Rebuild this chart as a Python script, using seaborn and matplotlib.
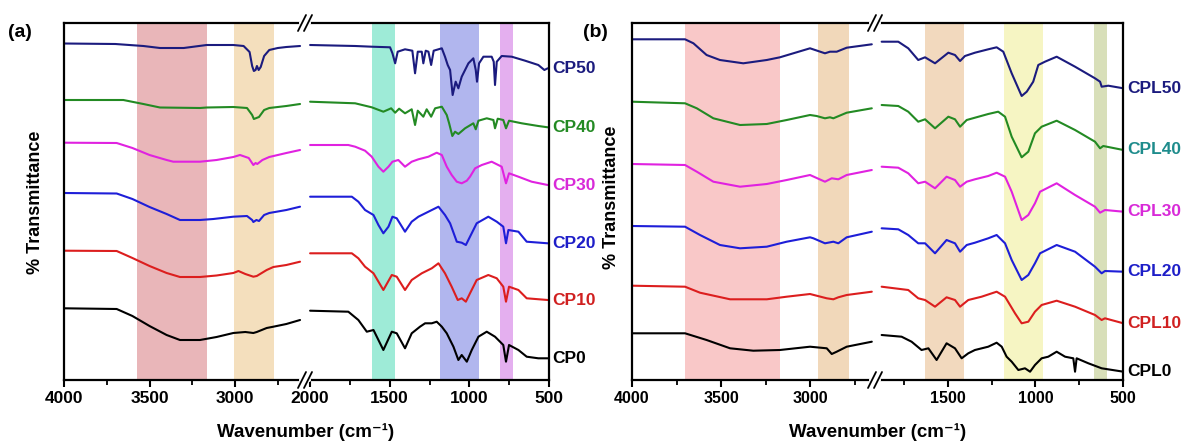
import matplotlib
matplotlib.use("Agg")
import matplotlib.pyplot as plt
import matplotlib.transforms as mtrans
from matplotlib.lines import Line2D
from matplotlib.ticker import MultipleLocator, NullLocator
import pandas as pd
import seaborn as sns

# ---------------- data: panel (a) ----------------
CP50_wn = [4000,3700,3536,3439,3300,3166,3010,2950,2915,2900,2890,2880,2872,2862,2850,2830,2800,2750,2700,2620,
           2000,1717,1613,1498,1483,1466,1450,1404,1358,1341,1324,1299,1289,1274,1257,1240,1224,1173,1153,1136,
           1121,1105,1086,1069,1048,1006,975,960,952,939,912,860,847,839,828,797,734,650,567,529,508]
CP50_T = [336.5,336,334,332,332,335,335,334,328,314,309,310,314,310,313,324,330,332,333,334,
          335,334,333.3,332.7,326.7,316.7,328.3,330.7,329.3,306.7,328.3,328.3,316.7,329.3,328.3,315,329.3,331.7,323.3,315,
          310,285,298.3,291.7,303.3,316.7,321.7,310,298.3,316.7,323.3,323.3,318.3,295,318.3,324,323.3,319.3,315,310,311.7]

CP40_wn = [4000,3653,3536,3439,3205,3166,3010,2930,2900,2890,2875,2860,2830,2800,2700,2620,
           2000,1717,1613,1540,1491,1466,1441,1404,1362,1341,1324,1289,1268,1240,1215,1173,1142,1127,1107,1090,
           1069,1027,975,960,943,891,849,839,822,787,770,751,671,567,508]
CP40_T = [280,280,276,272.5,272,272.5,273,272,265,261,262,263,270,272,274,276,
          278.3,276.7,272.7,268.3,271.7,267.3,271.3,266.7,270.7,255,269.3,263.3,270.7,263.3,271.7,273.3,265,256.7,244,248.3,
          246,251.7,256.7,250.7,259.3,261.7,260,251.7,261.3,260,251.7,259.3,256.7,254,252.7]

CP30_wn = [4000,3692,3600,3500,3400,3361,3205,3108,3010,2971,2920,2893,2880,2870,2840,2800,2700,2620,
           2000,1760,1717,1655,1613,1571,1540,1508,1483,1446,1404,1362,1320,1257,1205,1173,1142,1111,1079,1048,
           1016,996,964,922,860,797,770,751,692,609,508]
CP30_T = [237.3,237,232,225,220,218.3,218.3,220,223,225,222,215,217,216,220,223,227,230,
          235,235,233.3,229.3,223.3,213.3,208.3,213.3,218.3,220,213.3,218.3,220.7,223.3,227.3,225,213.3,205,198.3,196.7,
          199.3,203.3,211.7,215,218.3,213.3,196.7,206.7,203.3,198.3,195]

CP20_wn = [4000,3692,3600,3500,3400,3322,3205,3127,3010,2930,2900,2893,2875,2860,2830,2800,2700,2620,
           2000,1738,1697,1655,1602,1571,1540,1508,1483,1456,1404,1362,1320,1257,1194,1153,1121,1079,1048,1022,
           996,954,881,828,787,770,755,692,640,508]
CP20_T = [187,186.5,181,173,166,160,160,161,163.3,164,160,158,160,159,165,167,170,173.3,
          183.3,183.3,178.3,170,165,155,146.7,153.3,163.3,161.7,148.3,158.3,163.3,168.3,173.3,165,156.7,138.3,137.3,135,
          143.3,156.7,163.3,158.3,153.3,136.7,150,148.3,138.3,136.7]

CP10_wn = [4000,3692,3600,3500,3400,3322,3205,3108,3010,2980,2940,2893,2873,2815,2776,2700,2620,
           2000,1738,1697,1655,1602,1540,1487,1456,1404,1362,1299,1236,1194,1153,1111,1073,1048,1022,996,954,
           881,828,787,770,751,692,640,508]
CP10_T = [129.3,129,122,114,107,103,103,104.5,107,109,106,103.3,104,110,113,115,118.3,
          126.7,126.7,121.7,113.3,106.7,90,105,103.3,90,100,106.7,111.7,116.7,106.7,93.3,80,81.7,78.3,86.7,100,
          105,101.7,93.3,78.3,93.3,90,81.7,80]

CP0_wn = [4000,3692,3600,3500,3400,3322,3205,3108,3010,2940,2893,2873,2815,2776,2700,2620,
          2000,1760,1697,1644,1602,1540,1487,1456,1404,1362,1310,1278,1236,1205,1173,1142,1100,1069,1048,1016,
          985,943,891,839,787,770,751,692,640,567,508]
CP0_T = [71.7,71,64,54,45,40,40,43,47,48,47,48,52,53.3,56,60,
         69.3,68.3,60,48.3,50,30,48.3,46.7,31.7,46.7,53.3,56.7,56.7,58.3,53.3,46.7,33.3,20,25,18.3,
         30,43.3,48.3,43.3,35,18.3,35,30,23.3,21.7,21.7]

# ---------------- data: panel (b) ----------------
CPL50_wn = [4000,3702,3655,3581,3506,3375,3243,3169,3000,2916,2888,2850,2794,2653,
            1879,1784,1727,1670,1631,1574,1498,1460,1431,1403,1346,1270,1222,1184,1136,1079,1050,1013,984,946,
            879,774,660,631,622,584,498]
CPL50_T = [340.7,340.7,336.7,325,320,316.7,320,322.7,331.7,326.7,328.3,328.3,332.3,335.7,
           338.3,338.3,331.7,320,322.7,316.7,327.3,325,319,324,327.3,330.7,332.7,328.3,306.7,284,288.3,298.3,315,318.3,
           323.3,313.3,301.7,298.3,293.3,294.3,291.7]

CPL40_wn = [4000,3702,3636,3543,3393,3243,3131,3000,2963,2916,2888,2869,2794,2653,
            1879,1784,1727,1670,1631,1574,1498,1460,1431,1393,1346,1270,1213,1174,1136,1079,1041,1003,965,879,
            774,660,631,613,498]
CPL40_T = [278.3,276.7,271.7,261.7,255,256,260,265,264,261.7,262.7,261.7,267.3,271.7,
           275,274,268.3,258.3,260.7,251.7,263.3,260.7,253.3,260,262.3,266,268.3,263.3,243.3,222.7,228.3,246.7,253.3,259.3,
           250,238.3,231.7,234,230]

CPL30_wn = [4000,3702,3636,3543,3393,3243,3131,3000,2916,2878,2841,2794,2653,
            1879,1784,1727,1670,1631,1574,1508,1460,1431,1393,1346,1270,1222,1174,1136,1079,1041,1003,974,879,
            774,660,631,603,498]
CPL30_T = [216,215,208.3,198.3,193.3,196,200,205,198.3,201.7,200.7,205,210,
           213.3,212.3,206.7,196.7,198.3,191.7,203.3,200,193.3,198.3,200.7,204,207.3,203.3,188.3,160,165,176.7,188.3,196.7,
           185,173.3,167.3,170,168.3]

CPL20_wn = [4000,3702,3618,3506,3393,3243,3131,3000,2981,2916,2869,2841,2794,2653,
            1879,1784,1727,1670,1631,1574,1508,1460,1431,1393,1346,1270,1222,1174,1136,1079,1041,1003,974,879,
            774,660,622,603,498]
CPL20_T = [154,153.3,145,135,131.7,133.3,138.3,142.7,141.7,136.7,138.3,136.7,142.7,148.3,
           151.7,150.7,145,136.7,136.7,126.7,140,136.7,128.3,135,137.3,141.7,145,136.7,120,100,105,116.7,126.7,135,
           128.3,113.3,106.7,109,108.3]

CPL10_wn = [4000,3702,3618,3449,3243,3131,3000,2906,2869,2841,2794,2653,
            1879,1727,1670,1631,1574,1508,1460,1431,1384,1308,1222,1174,1117,1079,1041,1003,965,879,774,660,622,603,498]
CPL10_T = [94.3,93.3,87.3,80.7,80.7,83.3,86,81.7,80.7,82.7,85,88.3,
           93.3,90,81.7,80,73.3,82.7,80,73.3,80,83.3,88.3,83.3,66.7,56.7,58.3,68.3,75,79.3,73.3,65,60,61.7,56.7]

CPL0_wn = [4000,3702,3581,3449,3319,3169,3000,2906,2878,2850,2794,2653,
           1879,1765,1708,1651,1612,1565,1508,1460,1422,1384,1346,1270,1222,1193,1165,1136,1098,1060,1031,1003,
           965,927,879,831,784,774,765,698,622,498]
CPL0_T = [46.7,46.7,40,31.7,29.3,30,33.3,31.7,26,28.3,33.3,38.3,
          45,43.3,38.3,30,31.7,20,36.7,31.7,21.7,26.7,30,33.3,37.3,33.3,23.3,18.3,10,11.7,8.3,15,
          21.7,23.3,28.3,23.3,21.7,8.3,21.7,16.7,11.7,8.3]

# series: name, wavenumbers, values, line colour, label colour
series_a = [
    ("CP50", CP50_wn, CP50_T, "#1B1B7E", "#1B1B7E"),
    ("CP40", CP40_wn, CP40_T, "#238A23", "#238A23"),
    ("CP30", CP30_wn, CP30_T, "#E022E0", "#D82AD8"),
    ("CP20", CP20_wn, CP20_T, "#1E1ED8", "#1E1EC8"),
    ("CP10", CP10_wn, CP10_T, "#DC1E1E", "#D02020"),
    ("CP0", CP0_wn, CP0_T, "#000000", "#000000"),
]
series_b = [
    ("CPL50", CPL50_wn, CPL50_T, "#1B1B7E", "#1B1B7E"),
    ("CPL40", CPL40_wn, CPL40_T, "#238A23", "#1E8C8C"),
    ("CPL30", CPL30_wn, CPL30_T, "#E022E0", "#D82AD8"),
    ("CPL20", CPL20_wn, CPL20_T, "#1E1ED8", "#1E1EC8"),
    ("CPL10", CPL10_wn, CPL10_T, "#DC1E1E", "#D02020"),
    ("CPL0", CPL0_wn, CPL0_T, "#000000", "#000000"),
]

# shaded regions (wavenumber from, to, colour)
bands_a = [(3573, 3164, "#E9B6B9"), (3006, 2772, "#F4DFBD"),
           (1613, 1466, "#9EEBD7"), (1184, 939, "#B1B6EE"), (807, 724, "#E4AFEF")]
bands_b = [(3702, 3169, "#F9C8C8"), (2955, 2781, "#F1D8BA"),
           (1631, 1407, "#F2D9BE"), (1178, 959, "#F6F5C3"), (666, 590, "#D8DFB9")]

xlims_a = [(4000, 2591), (2032, 500)]
xlims_b = [(4000, 2635), (1917, 500)]
split_wn = 2300

# ---------------- style ----------------
sns.set_theme(style="white")
plt.rcParams['font.family'] = ['Liberation Sans', 'DejaVu Sans']
plt.rcParams['font.weight'] = 'bold'
plt.rcParams['text.color'] = 'black'
plt.rcParams['axes.labelcolor'] = 'black'
plt.rcParams['xtick.color'] = 'black'
plt.rcParams['ytick.color'] = 'black'

W, H = 1184, 444
fig = plt.figure(figsize=(W / 100, H / 100), dpi=100)
fig.patch.set_facecolor('white')

top_px, bot_px = 23, 380
b = 1 - bot_px / H
h = (bot_px - top_px) / H


def add_ax(x0, x1):
    return fig.add_axes([x0 / W, b, (x1 - x0) / W, h])


def style_pair(axl, axr, xlims, tick_fs):
    for ax, lim in zip((axl, axr), xlims):
        ax.set_xlim(*lim)
        ax.set_ylim(0, 357)
        ax.set_facecolor('none')
        ax.xaxis.set_major_locator(MultipleLocator(500))
        ax.xaxis.set_minor_locator(MultipleLocator(250))
        ax.yaxis.set_major_locator(NullLocator())
        ax.tick_params(axis='x', which='major', direction='out', length=5, width=1.5,
                       labelsize=tick_fs, pad=3, colors='black', bottom=True, top=False)
        ax.tick_params(axis='x', which='minor', direction='out', length=3.5, width=1.3,
                       colors='black', bottom=True, top=False)
        for lab in ax.get_xticklabels():
            lab.set_fontweight('bold')
        for s in ax.spines.values():
            s.set_linewidth(1.6)
            s.set_color('black')
        ax.set_xlabel('')
        ax.set_ylabel('')
    axl.spines['right'].set_visible(False)
    axr.spines['left'].set_visible(False)


def draw_panel(axl, axr, series, bands, label_dx, label_fs):
    for lo, hi, c in bands:
        for ax in (axl, axr):
            ax.axvspan(lo, hi, color=c, lw=0, zorder=0)
    for name, wn, T, lc, tc in series:
        df = pd.DataFrame({"wn": wn, "T": T})
        left = df[df.wn > split_wn]
        right = df[df.wn <= split_wn]
        sns.lineplot(data=left, x="wn", y="T", ax=axl, color=lc, lw=1.5,
                     estimator=None, sort=False, legend=False)
        sns.lineplot(data=right, x="wn", y="T", ax=axr, color=lc, lw=1.5,
                     estimator=None, sort=False, legend=False)
        tr = mtrans.blended_transform_factory(axr.transAxes, axr.transData)
        axr.text(1 + label_dx, right["T"].iloc[-1], name, transform=tr, ha='left', va='center',
                 color=tc, fontsize=label_fs, fontweight='bold', clip_on=False)


def break_marks(xj):
    for py in (top_px, bot_px):
        Y = 1 - py / H
        fig.add_artist(Line2D([(xj - 4) / W, (xj + 4) / W], [Y, Y], color='white', lw=3,
                              transform=fig.transFigure, zorder=10))
        for off in (-3, 3):
            fig.add_artist(Line2D([(xj + off - 4) / W, (xj + off + 4) / W],
                                  [1 - (py + 8) / H, 1 - (py - 8) / H],
                                  color='black', lw=1.3, transform=fig.transFigure, zorder=11))


# panel (a)
axa_l = add_ax(64, 305)
axa_r = add_ax(305, 549)
draw_panel(axa_l, axa_r, series_a, bands_a, 0.012, 12.5)
style_pair(axa_l, axa_r, xlims_a, 12.5)
break_marks(305)

# panel (b)
axb_l = add_ax(632, 875)
axb_r = add_ax(875, 1123)
draw_panel(axb_l, axb_r, series_b, bands_b, 0.016, 12.5)
style_pair(axb_l, axb_r, xlims_b, 11.5)
break_marks(875)

# texts
xlabel = "Wavenumber (cm\u207B\u00B9)"
fig.text(8 / W, 1 - 24 / H, "(a)", fontsize=14, fontweight='bold', ha='left', va='top', color='black')
fig.text(583 / W, 1 - 24 / H, "(b)", fontsize=14, fontweight='bold', ha='left', va='top', color='black')
fig.text(35 / W, 1 - 202 / H, "% Transmittance", rotation=90, fontsize=13, fontweight='bold',
         ha='center', va='center', color='black')
fig.text(612 / W, 1 - 197 / H, "% Transmittance", rotation=90, fontsize=13, fontweight='bold',
         ha='center', va='center', color='black')
fig.text(306 / W, 1 - 432 / H, xlabel, fontsize=13.5, fontweight='bold',
         ha='center', va='center', color='black')
fig.text(878 / W, 1 - 432 / H, xlabel, fontsize=13.5, fontweight='bold',
         ha='center', va='center', color='black')

fig.savefig("out.png", dpi=100, facecolor='white')
